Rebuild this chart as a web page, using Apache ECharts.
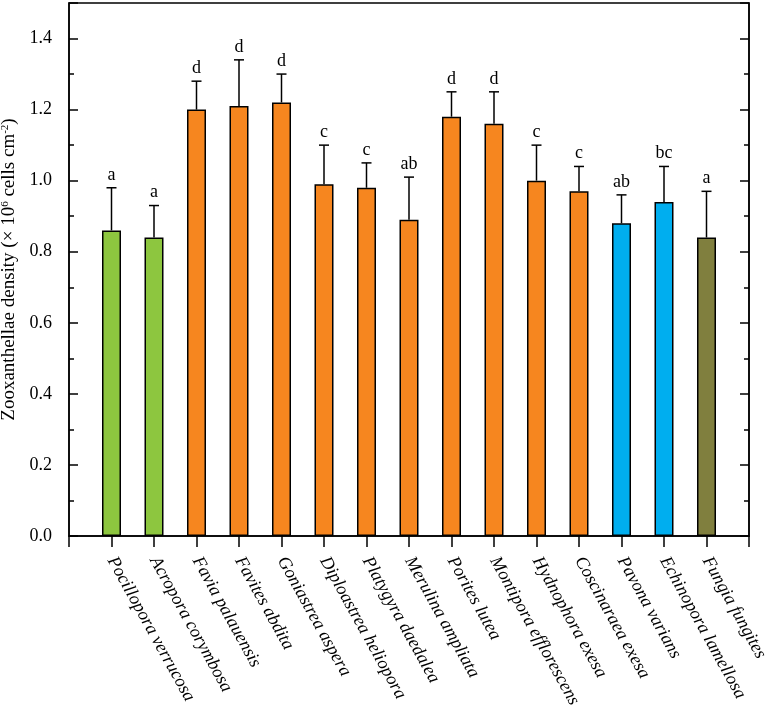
<!DOCTYPE html>
<html>
<head>
    <meta charset="utf-8"/>
    <title>Zooxanthellae density</title>
    <style>
        html, body { margin: 0; padding: 0; background: #fff; }
        #main { width: 765px; height: 708px; }
    </style>
</head>
<body>
<div id="main"></div>
<script src="https://cdn.jsdelivr.net/npm/echarts@6/dist/echarts.min.js"></script>
<script type="text/javascript">
    // species, in plot order
    var species = ['Pocillopora verrucosa', 'Acropora corymbosa', 'Favia palauensis', 'Favites abdita',
        'Goniastrea aspera', 'Diploastrea heliopora', 'Platygyra daedalea', 'Merulina ampliata',
        'Porites lutea', 'Montipora efflorescens', 'Hydnophora exesa', 'Coscinaraea exesa',
        'Pavona varians', 'Echinopora lamellosa', 'Fungia fungites'];
    var density = [0.86, 0.84, 1.20, 1.21, 1.22, 0.99, 0.98, 0.89, 1.18, 1.16, 1.00, 0.97, 0.88, 0.94, 0.84];
    var sd = [0.12, 0.09, 0.08, 0.13, 0.08, 0.11, 0.07, 0.12, 0.07, 0.09, 0.10, 0.07, 0.08, 0.10, 0.13];
    var letters = ['a', 'a', 'd', 'd', 'd', 'c', 'c', 'ab', 'd', 'd', 'c', 'c', 'ab', 'bc', 'a'];
    var groupColor = ['#8dc63f', '#8dc63f', '#f6861f', '#f6861f', '#f6861f', '#f6861f', '#f6861f', '#f6861f',
        '#f6861f', '#f6861f', '#f6861f', '#f6861f', '#00aeef', '#00aeef', '#807f3e'];
    var yTicks = [0, 0.2, 0.4, 0.6, 0.8, 1.0, 1.2, 1.4];

    // axis runs 0..16 like the original, bars sit on 1..15
    var axisCats = [''].concat(species).concat(['']);
    var barData = ['-'].concat(density.map(function (v, i) {
        return {value: v, itemStyle: {color: groupColor[i]}};
    })).concat(['-']);
    var errData = density.map(function (v, i) {
        return [i + 1, v, sd[i]];
    });

    var serif = 'Liberation Serif, Times New Roman, serif';

    var yAxisBase = {
        type: 'value',
        min: 0,
        max: 1.5,
        interval: 0.2,
        axisLine: {show: true, lineStyle: {color: '#000', width: 1.5}},
        axisTick: {show: true, inside: true, length: 9, lineStyle: {color: '#000', width: 1.5}},
        minorTick: {show: true, splitNumber: 2, length: 5, lineStyle: {color: '#000', width: 1.5}},
        splitLine: {show: false},
        minorSplitLine: {show: false}
    };

    var option = {
        animation: false,
        grid: {
            left: 69,
            right: 16,
            top: 3,
            bottom: 172,
            outerBoundsMode: 'none',
            show: true,
            borderColor: '#000',
            borderWidth: 1.5
        },
        xAxis: {
            type: 'category',
            data: axisCats,
            boundaryGap: false,
            axisLine: {lineStyle: {color: '#000', width: 1.5}},
            axisTick: {show: true, length: 11, interval: 0, lineStyle: {color: '#000', width: 1.5}},
            axisLabel: {
                interval: 0,
                rotate: -61,
                margin: 22,
                color: '#000',
                fontFamily: serif,
                fontStyle: 'italic',
                fontSize: 18
            },
            splitLine: {show: false}
        },
        yAxis: [
            Object.assign({}, yAxisBase, {
                position: 'left',
                name: 'Zooxanthellae density (× 10{sup|6} cells cm{sup|-2})',
                nameLocation: 'middle',
                nameGap: 44,
                nameTextStyle: {
                    color: '#000',
                    fontFamily: serif,
                    fontSize: 19,
                    rich: {
                        sup: {fontFamily: serif, fontSize: 11, color: '#000', verticalAlign: 'top', lineHeight: 16}
                    }
                },
                axisLabel: {
                    color: '#000',
                    fontFamily: serif,
                    fontSize: 18,
                    margin: 17,
                    showMaxLabel: false,
                    formatter: function (v) {
                        return yTicks.indexOf(Math.round(v * 10) / 10) >= 0 ? v.toFixed(1) : '';
                    }
                }
            }),
            Object.assign({}, yAxisBase, {
                position: 'right',
                axisLabel: {show: false}
            })
        ],
        series: [
            {
                name: 'density',
                type: 'bar',
                data: barData,
                barWidth: 19,
                itemStyle: {borderColor: '#000', borderWidth: 1.5}
            },
            {
                name: 'sd',
                type: 'custom',
                data: errData,
                z: 3,
                renderItem: function (params, api) {
                    var x = api.value(0);
                    var base = api.coord([x, api.value(1)]);
                    var top = api.coord([x, api.value(1) + api.value(2)]);
                    var half = 5;
                    return {
                        type: 'group',
                        children: [
                            {
                                type: 'line',
                                shape: {x1: base[0], y1: base[1], x2: top[0], y2: top[1]},
                                style: {stroke: '#000', lineWidth: 1.5}
                            },
                            {
                                type: 'line',
                                shape: {x1: top[0] - half, y1: top[1], x2: top[0] + half, y2: top[1]},
                                style: {stroke: '#000', lineWidth: 1.5}
                            },
                            {
                                type: 'text',
                                style: {
                                    x: top[0],
                                    y: top[1] - 4,
                                    text: letters[params.dataIndex],
                                    fill: '#000',
                                    font: '18px ' + serif,
                                    align: 'center',
                                    verticalAlign: 'bottom'
                                }
                            }
                        ]
                    };
                }
            }
        ]
    };

    var chart = echarts.init(document.getElementById('main'));
    chart.setOption(option);
</script>
</body>
</html>
